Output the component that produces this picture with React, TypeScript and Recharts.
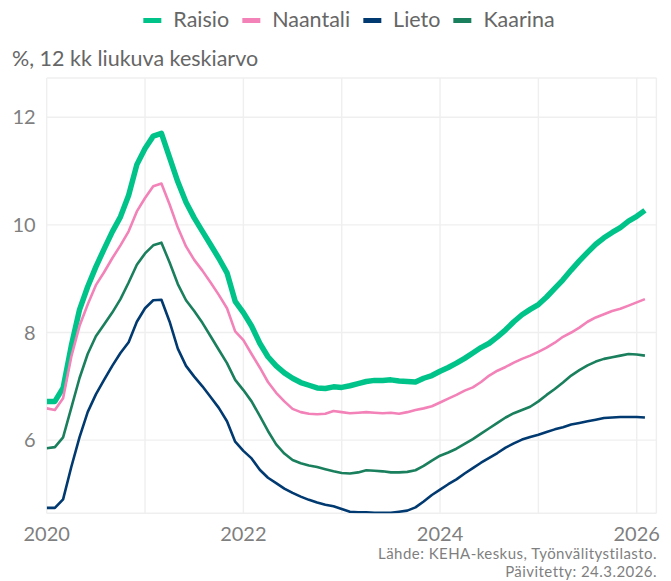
import { LineChart, Line, XAxis, YAxis, CartesianGrid } from 'recharts';

// monthly 12-month moving average, 2020-01 .. 2026-02
const START_YEAR = 2020;

const raisio = [
  6.72, 6.72, 6.97, 7.75, 8.42, 8.85, 9.22, 9.55, 9.87, 10.15, 10.55, 11.12,
  11.42, 11.65, 11.7, 11.25, 10.8, 10.42, 10.13, 9.88, 9.63, 9.38, 9.11, 8.58,
  8.37, 8.12, 7.8, 7.55, 7.38, 7.25, 7.15, 7.07, 7.02, 6.97, 6.96, 6.99,
  6.98, 7.01, 7.05, 7.09, 7.11, 7.11, 7.12, 7.1, 7.09, 7.08, 7.15, 7.2,
  7.28, 7.35, 7.43, 7.52, 7.62, 7.72, 7.8, 7.92, 8.05, 8.2, 8.33, 8.43,
  8.52, 8.66, 8.82, 8.98, 9.16, 9.33, 9.49, 9.64, 9.76, 9.86, 9.95, 10.07,
  10.16, 10.27,
];

const naantali = [
  6.59, 6.56, 6.78, 7.55, 8.12, 8.52, 8.88, 9.12, 9.38, 9.62, 9.88, 10.25,
  10.5, 10.72, 10.77, 10.38, 9.95, 9.6, 9.35, 9.15, 8.93, 8.7, 8.45, 8.02,
  7.86, 7.6, 7.35, 7.08, 6.88, 6.72, 6.58, 6.52, 6.49, 6.48, 6.49, 6.54,
  6.52, 6.5, 6.51, 6.52, 6.51, 6.5, 6.51, 6.49, 6.52, 6.56, 6.59, 6.63,
  6.7, 6.77, 6.84, 6.92, 6.98, 7.08, 7.2, 7.29, 7.36, 7.44, 7.51, 7.57,
  7.64, 7.72, 7.81, 7.92, 8.0, 8.09, 8.2, 8.28, 8.34, 8.4, 8.44, 8.5,
  8.56, 8.62,
];

const lieto = [
  4.74, 4.74, 4.9, 5.5, 6.05, 6.52, 6.85, 7.12, 7.38, 7.62, 7.82, 8.2,
  8.45, 8.6, 8.61, 8.2, 7.7, 7.38, 7.18, 7.0, 6.8, 6.6, 6.35, 5.97,
  5.8, 5.66, 5.45, 5.3, 5.2, 5.1, 5.02, 4.95, 4.89, 4.84, 4.8, 4.77,
  4.72, 4.67, 4.66, 4.66, 4.65, 4.65, 4.65, 4.67, 4.69, 4.75, 4.86, 4.98,
  5.08, 5.18, 5.27, 5.38, 5.48, 5.58, 5.67, 5.76, 5.86, 5.94, 6.01, 6.06,
  6.1, 6.15, 6.2, 6.24, 6.29, 6.32, 6.35, 6.38, 6.41, 6.42, 6.43, 6.43,
  6.43, 6.42,
];

const kaarina = [
  5.85, 5.87, 6.05, 6.6, 7.15, 7.6, 7.93, 8.15, 8.37, 8.62, 8.93, 9.26,
  9.47, 9.62, 9.67, 9.3, 8.9, 8.6, 8.4, 8.18, 7.93, 7.68, 7.43, 7.12,
  6.93, 6.72, 6.45, 6.17, 5.92, 5.75, 5.63, 5.57, 5.53, 5.5, 5.46, 5.42,
  5.39, 5.38, 5.4, 5.44, 5.43, 5.42, 5.4, 5.4, 5.41, 5.44, 5.52, 5.62,
  5.71, 5.77, 5.84, 5.93, 6.02, 6.12, 6.22, 6.32, 6.42, 6.5, 6.56, 6.62,
  6.72, 6.84, 6.95, 7.07, 7.2, 7.3, 7.39, 7.46, 7.51, 7.54, 7.57, 7.6,
  7.59, 7.57,
];

const yearTicks = [2020, 2021, 2022, 2023, 2024, 2025, 2026];
const valueTicks = [6, 8, 10, 12];

const series = [
  { key: 'raisio', name: 'Raisio', color: '#00c389', width: 5.5 },
  { key: 'naantali', name: 'Naantali', color: '#f382b8', width: 2.6 },
  { key: 'lieto', name: 'Lieto', color: '#003a70', width: 2.6 },
  { key: 'kaarina', name: 'Kaarina', color: '#1a7f5c', width: 2.6 },
];

const data = raisio.map((v, i) => ({
  t: START_YEAR + i / 12,
  raisio: v,
  naantali: naantali[i],
  lieto: lieto[i],
  kaarina: kaarina[i],
}));

const FONT = 'Lato, "Open Sans", sans-serif';
const GREY = '#7f7f7f';

const sourceStyle = {
  position: 'absolute' as const,
  right: 14,
  fontSize: 15,
  letterSpacing: 0.45,
  lineHeight: '18px',
  color: GREY,
  whiteSpace: 'nowrap' as const,
};

export default function App() {
  return (
    <div style={{ position: 'absolute', left: 0, top: 0, width: 671, height: 581, background: '#fff', fontFamily: FONT }}>
      <div style={{ position: 'absolute', left: 349, top: 5, transform: 'translateX(-50%)', display: 'flex', alignItems: 'center', whiteSpace: 'nowrap', fontSize: 21.5, lineHeight: '28px', color: '#666' }}>
        {series.map((s, i) => (
          <div key={s.key} style={{ display: 'flex', alignItems: 'center', marginLeft: i ? 13 : 0 }}>
            <span style={{ display: 'inline-block', width: 18, height: 5, background: s.color, marginRight: 12, position: 'relative', top: 1 }} />
            <span>{s.name}</span>
          </div>
        ))}
      </div>
      <div style={{ position: 'absolute', left: 12, top: 44, fontSize: 21.5, lineHeight: '28px', color: '#666', whiteSpace: 'nowrap' }}>
        %, 12 kk liukuva keskiarvo
      </div>
      <LineChart width={671} height={581} data={data} margin={{ top: 78, right: 14.6, bottom: 37.7, left: 6.7 }}>
        <CartesianGrid stroke="#efefef" strokeWidth={1.4} />
        <XAxis
          dataKey="t"
          type="number"
          domain={[2020, 2026.2]}
          ticks={yearTicks}
          allowDataOverflow
          height={30}
          axisLine={false}
          tickLine={false}
          tickMargin={7}
          tick={{ fill: GREY, fontSize: 20, fontFamily: FONT }}
          tickFormatter={(v: number) => (v % 2 === 0 ? String(v) : '')}
        />
        <YAxis
          type="number"
          domain={[4.64, 12.73]}
          ticks={valueTicks}
          allowDataOverflow
          width={40}
          axisLine={false}
          tickLine={false}
          tickMargin={5}
          tick={{ fill: GREY, fontSize: 20, fontFamily: FONT }}
        />
        {series.map(s => (
          <Line
            key={s.key}
            type="linear"
            dataKey={s.key}
            name={s.name}
            stroke={s.color}
            strokeWidth={s.width}
            strokeLinejoin="round"
            dot={false}
            activeDot={false}
            isAnimationActive={false}
          />
        ))}
      </LineChart>
      <div style={{ ...sourceStyle, top: 543.8 }}>Lähde: KEHA-keskus, Työnvälitystilasto.</div>
      <div style={{ ...sourceStyle, top: 561.8 }}>Päivitetty: 24.3.2026.</div>
    </div>
  );
}
